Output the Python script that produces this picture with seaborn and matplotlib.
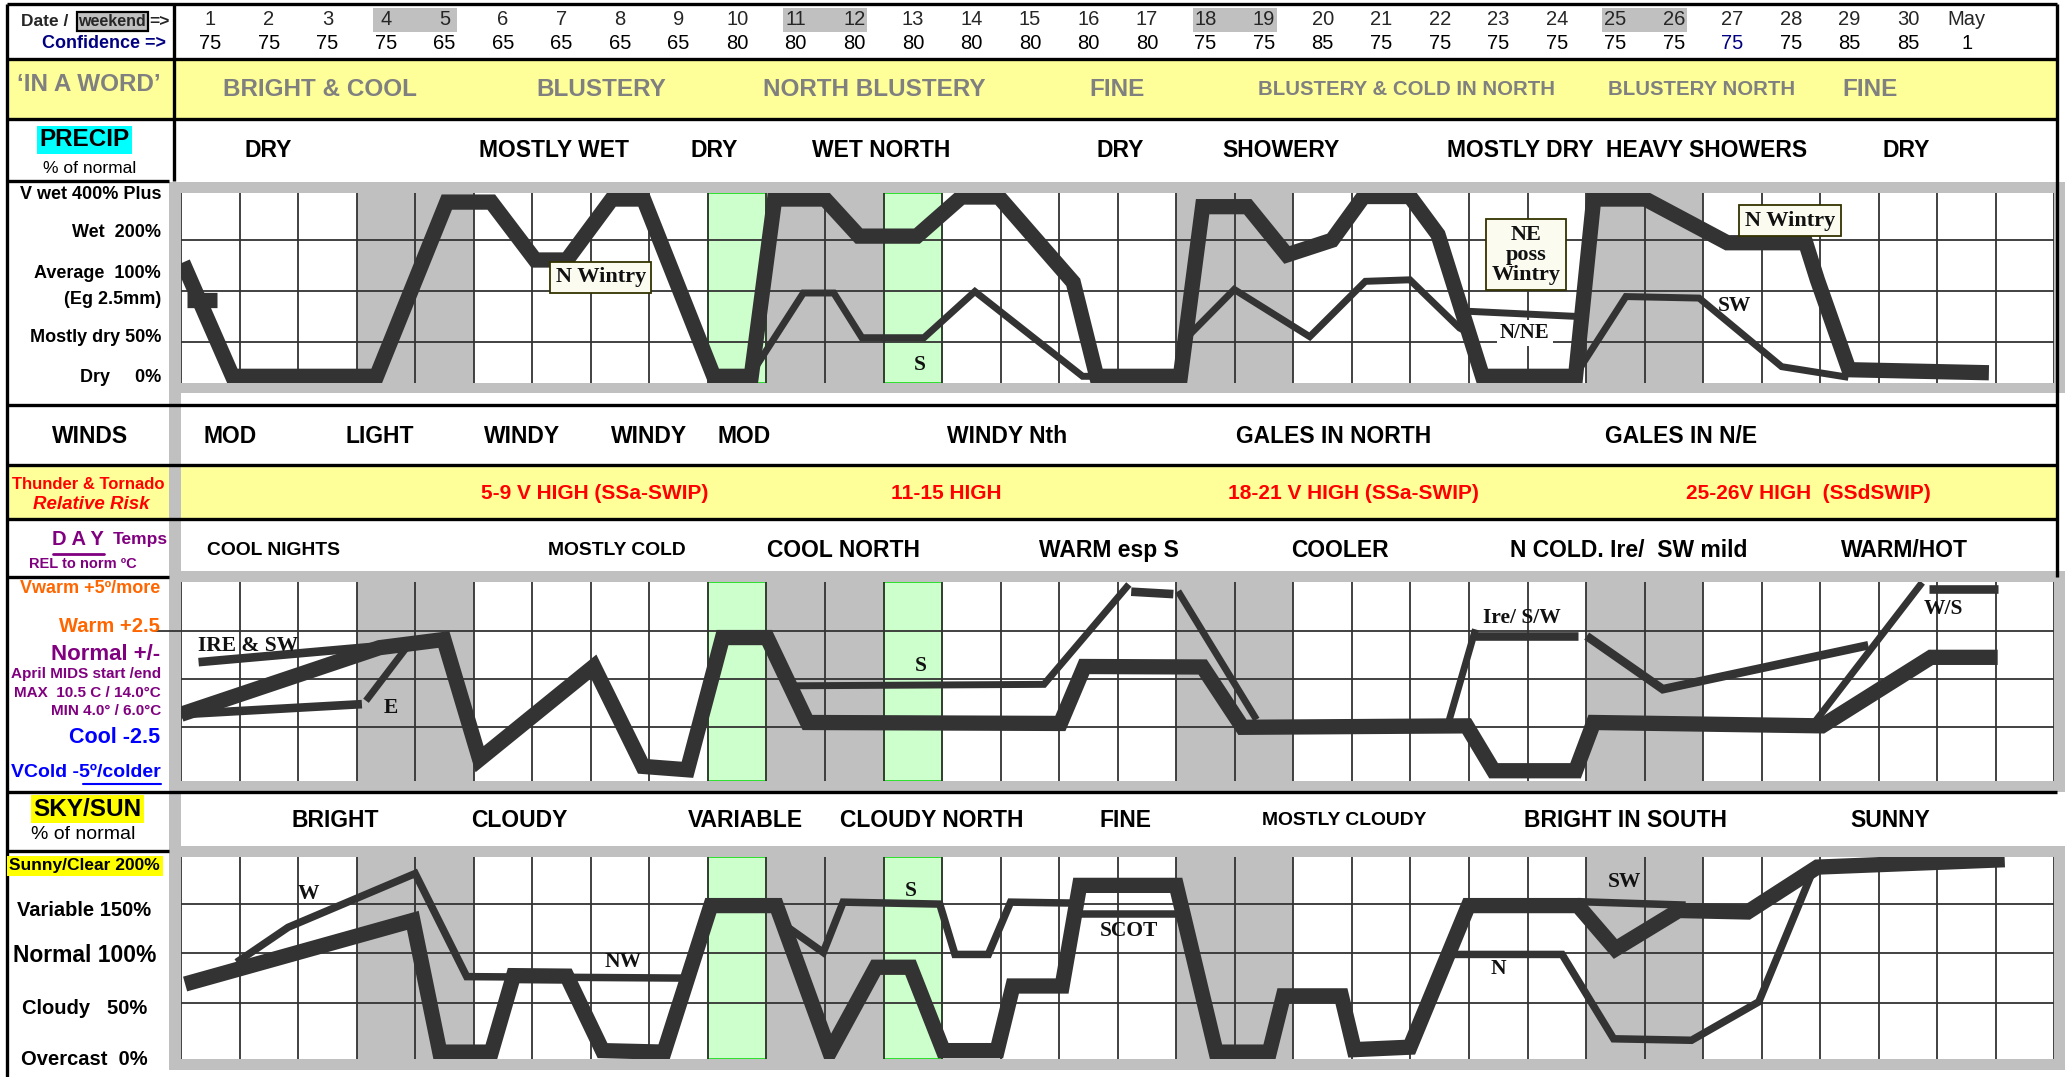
import matplotlib
matplotlib.use("Agg")
import matplotlib.pyplot as plt
import matplotlib.transforms as mtransforms
from matplotlib.patches import Rectangle
import seaborn as sns
import pandas as pd
import numpy as np

# ---------------- data ----------------
date_labels = [str(d) for d in range(1, 31)] + ["May"]
confidence = ["75", "75", "75", "75", "65", "65", "65", "65", "65", "80",
              "80", "80", "80", "80", "80", "80", "80", "75", "75", "85",
              "75", "75", "75", "75", "75", "75", "75", "75", "85", "85", "1"]
weekend_days = [4, 5, 11, 12, 18, 19, 25, 26]
holiday_days = [10, 13]

# text rows: label + the day it is centred on
word_text = ["BRIGHT & COOL", "BLUSTERY", "NORTH BLUSTERY", "FINE",
             "BLUSTERY & COLD IN NORTH", "BLUSTERY NORTH", "FINE"]
word_day = [2.87, 7.68, 12.35, 16.48, 21.43, 26.48, 29.35]

precip_text = ["DRY", "MOSTLY WET", "DRY", "WET NORTH", "DRY", "SHOWERY",
               "MOSTLY DRY", "HEAVY SHOWERS", "DRY"]
precip_day = [1.99, 6.87, 9.60, 12.46, 16.55, 19.28, 23.37, 26.55, 29.96]

wind_text = ["MOD", "LIGHT", "WINDY", "WINDY", "MOD", "WINDY Nth",
             "GALES IN NORTH", "GALES IN N/E"]
wind_day = [1.34, 3.89, 6.32, 8.49, 10.12, 14.61, 20.18, 26.12]

thunder_text = ["5-9 V HIGH (SSa-SWIP)", "11-15 HIGH", "18-21 V HIGH (SSa-SWIP)",
                "25-26V HIGH  (SSdSWIP)"]
thunder_day = [7.57, 13.57, 20.52, 28.29]

temp_text = ["COOL NIGHTS", "MOSTLY COLD", "COOL NORTH", "WARM esp S", "COOLER",
             "N COLD. Ire/  SW mild", "WARM/HOT"]
temp_day = [2.08, 7.95, 11.81, 16.35, 20.30, 25.22, 29.94]

sky_text = ["BRIGHT", "CLOUDY", "VARIABLE", "CLOUDY NORTH", "FINE",
            "MOSTLY CLOUDY", "BRIGHT IN SOUTH", "SUNNY"]
sky_day = [3.14, 6.28, 10.14, 13.32, 16.64, 20.36, 25.17, 29.69]

precip_levels = ["V wet 400% Plus", "Wet  200%", "Average  100%", "(Eg 2.5mm)",
                 "Mostly dry 50%", "Dry     0%"]
sky_levels = ["Sunny/Clear 200%", "Variable 150%", "Normal 100%", "Cloudy   50%",
              "Overcast  0%"]

# PRECIP lines (grid levels: 1 ~ mostly dry, 2 ~ average, 3 ~ wet)
precip_main_x = [0.53, 1.38, 3.84, 5.04, 5.80, 6.55, 7.09, 7.86, 8.40, 9.60,
                 10.24, 10.64, 11.50, 12.08, 13.07, 13.83, 14.47, 15.74, 16.14, 17.57,
                 17.95, 18.72, 19.39, 20.16, 20.70, 21.49, 21.97, 22.73, 24.32, 24.63,
                 25.51, 26.91, 28.25, 28.45, 28.99, 31.38]
precip_main_y = [2.56, 0.32, 0.32, 3.75, 3.75, 2.61, 2.61, 3.81, 3.81, 0.32,
                 0.32, 3.81, 3.81, 3.08, 3.08, 3.85, 3.85, 2.17, 0.32, 0.32,
                 3.66, 3.66, 2.71, 3.00, 3.86, 3.86, 3.11, 0.32, 0.32, 3.81,
                 3.81, 2.95, 2.95, 2.22, 0.45, 0.39]
precip_stub_x = [0.61, 1.11]
precip_stub_y = [1.83, 1.83]
precip_s_x = [10.32, 11.13, 11.65, 12.13, 13.19, 14.06, 15.90, 17.61]
precip_s_y = [0.51, 1.96, 1.96, 1.08, 1.08, 1.99, 0.32, 0.32]
precip_s2_x = [17.65, 18.49, 19.78, 20.73, 21.49, 22.34, 22.49]
precip_s2_y = [1.05, 2.03, 1.10, 2.19, 2.22, 1.27, 1.18]
precip_ne_x = [22.49, 24.32]
precip_ne_y = [1.60, 1.50]
precip_sw_x = [24.41, 25.18, 26.43, 27.84, 28.98]
precip_sw_y = [0.51, 1.89, 1.86, 0.51, 0.30]

# DAY temps lines (grid levels: 1 ~ cool, 2 ~ normal, 3 ~ warm)
temp_main_x = [0.50, 3.89, 4.99, 5.60, 7.55, 8.39, 9.15, 9.75, 10.51, 11.20,
               15.52, 15.93, 17.95, 18.63, 22.46, 22.92, 24.32, 24.63, 28.53, 30.39, 31.53]
temp_main_y = [1.27, 2.65, 2.82, 0.34, 2.26, 0.19, 0.12, 2.86, 2.86, 1.10,
               1.08, 2.26, 2.25, 1.00, 1.03, 0.10, 0.10, 1.10, 1.03, 2.45, 2.45]
temp_ire_x, temp_ire_y = [0.80, 3.89], [2.35, 2.68]
temp_low_x, temp_low_y = [0.50, 3.59], [1.27, 1.48]
temp_east_x, temp_east_y = [3.66, 4.35], [1.55, 2.65]
temp_south_x, temp_south_y = [10.95, 15.24, 16.69], [1.86, 1.89, 3.96]
temp_peak_x, temp_peak_y = [16.73, 17.45], [3.81, 3.76]
temp_fall_x, temp_fall_y = [17.53, 18.87], [3.82, 1.16]
temp_ire2_x, temp_ire2_y = [22.15, 22.61], [1.10, 3.03]
temp_ire2b_x, temp_ire2b_y = [22.61, 24.36], [2.89, 2.89]
temp_mid_x, temp_mid_y = [24.51, 25.81, 29.32], [2.89, 1.79, 2.70]
temp_ws_x, temp_ws_y = [28.40, 30.24], [1.10, 4.00]
temp_wsb_x, temp_wsb_y = [30.35, 31.53], [3.86, 3.86]

# SKY/SUN lines (grid levels: 1 ~ cloudy, 2 ~ normal, 3 ~ variable)
sky_main_x = [0.57, 4.46, 4.92, 5.80, 6.18, 7.09, 7.70, 8.75, 9.55, 10.67,
              11.58, 12.37, 12.96, 13.52, 14.44, 14.71, 15.55, 15.85, 17.50, 18.18,
              19.09, 19.33, 20.32, 20.54, 21.49, 22.49, 24.36, 25.00, 26.08, 27.26,
              28.45, 31.65]
sky_main_y = [1.38, 2.67, 0.00, 0.00, 1.55, 1.54, 0.03, 0.00, 2.97, 2.97,
              0.00, 1.72, 1.72, 0.03, 0.03, 1.34, 1.34, 3.38, 3.38, 0.00,
              0.00, 1.14, 1.14, 0.05, 0.10, 2.97, 2.97, 2.09, 2.87, 2.84,
              3.75, 3.90]
sky_w_x, sky_w_y = [1.45, 2.33, 4.50, 5.38, 9.15], [1.82, 2.53, 3.62, 1.53, 1.50]
sky_s_x = [10.78, 11.47, 11.81, 13.46, 13.72, 14.29, 14.67, 15.80]
sky_s_y = [2.60, 2.02, 3.04, 3.00, 1.98, 1.98, 3.04, 3.02]
sky_scot_x, sky_scot_y = [15.76, 17.62], [2.80, 2.80]
sky_n_x = [22.14, 24.09, 24.97, 26.30, 27.45, 28.40]
sky_n_y = [1.98, 1.98, 0.27, 0.24, 1.02, 3.75]
sky_sw_x, sky_sw_y = [24.36, 26.20], [3.05, 2.98]

# ---------------- style ----------------
sns.set_theme(style="white")
plt.rcParams["font.family"] = ["Liberation Sans", "DejaVu Sans"]
SERIF = ["Liberation Serif", "DejaVu Serif"]
INK = "#333333"
GREY = "#c0c0c0"
YELLOW = "#ffff99"
PURPLE = "#800080"
ORANGE = "#ff6600"
BLUE = "#0000ff"
RED = "#ff0000"
LW_THICK, LW_MED, LW_THIN = 11, 6.2, 5.0

W, H = 1566, 816          # layout units of the sheet
X0, X1 = 137, 1555        # left / right edge of the day grid

fig = plt.figure(figsize=(20.69, 10.77), dpi=100)
lay = fig.add_axes([0, 0, 1, 1], zorder=0)
lay.set_xlim(0, W)
lay.set_ylim(H, 0)
lay.axis("off")


def seg_frame(segs):
    rows = []
    for i, (xs, ys) in enumerate(segs):
        rows += [{"day": x, "level": y, "seg": i} for x, y in zip(xs, ys)]
    return pd.DataFrame(rows)


def draw_lines(ax, segs, lw):
    sns.lineplot(data=seg_frame(segs), x="day", y="level", units="seg", estimator=None,
                 sort=False, color=INK, linewidth=lw, legend=False, ax=ax,
                 solid_joinstyle="miter", solid_capstyle="butt", zorder=3)


def make_panel(top, bottom, ylim):
    ax = fig.add_axes([X0 / W, 1 - bottom / H, (X1 - X0) / W, (bottom - top) / H], zorder=2)
    ax.set_facecolor("white")
    for d in weekend_days:
        ax.axvspan(d - 0.5, d + 0.5, color=GREY, lw=0, zorder=0)
    for d in holiday_days:
        ax.axvspan(d - 0.5, d + 0.5, facecolor="#ccffcc", edgecolor="#22dd22", lw=1.3, zorder=0)
    ax.vlines(np.arange(0.5, 33.0, 1.0), ylim[0], ylim[1], color=INK, lw=1.3, zorder=1)
    ax.hlines([1, 2, 3], 0.5, 32.5, color=INK, lw=1.3, zorder=1)
    return ax


def finish(ax, ylim):
    ax.set_xlim(0.5, 32.5)
    ax.set_ylim(*ylim)
    ax.set_xlabel("")
    ax.set_ylabel("")
    ax.set_xticks([])
    ax.set_yticks([])
    for s in ax.spines.values():
        s.set_visible(False)


def note(ax, x, y, s, size=15.5, box=None):
    ax.text(x, y, s, family=SERIF, weight="bold", fontsize=size, ha="center", va="center",
            color="#111111", zorder=5, bbox=box, linespacing=1.0)


NOTE_BOX = dict(boxstyle="square,pad=0.25", fc="#fbfbf0", ec="#333300", lw=1.3)

# ---------------- sheet background ----------------
def rect(x0, y0, x1, y1, color, z=0.5):
    lay.add_patch(Rectangle((x0, y0), x1 - x0, y1 - y0, facecolor=color, edgecolor="none", zorder=z))


rect(5, 45, 1557, 90, YELLOW)
rect(5, 352, 1557, 393, YELLOW)
rect(128, 138, 1563, 298, GREY, 1)
rect(128, 433, 1563, 600, GREY, 1)
rect(128, 641, 1563, 811, GREY, 1)
rect(128, 138, 137, 811, GREY, 1)


def hline(y, x0, x1, lw=2.4):
    lay.plot([x0, x1], [y, y], color="black", lw=lw, solid_capstyle="butt", zorder=3)


def vline(x, y0, y1, lw=2.4):
    lay.plot([x, x], [y0, y1], color="black", lw=lw, solid_capstyle="butt", zorder=3)


for yy in (3, 45, 90, 307, 352, 393, 600):
    hline(yy, 5, 1557)
for yy in (137, 437, 645):
    hline(yy, 5, 128)
vline(5, 3, 816)
vline(132, 3, 137)
vline(1557, 3, 437)

# ---------------- chart panels ----------------
P_LIM = (0.18, 3.935)
T_LIM = (-0.12, 4.01)
S_LIM = (-0.13, 3.95)

ax_p = make_panel(146, 290.5, P_LIM)
draw_lines(ax_p, [(precip_main_x, precip_main_y), (precip_stub_x, precip_stub_y)], LW_THICK)
draw_lines(ax_p, [(precip_s_x, precip_s_y), (precip_s2_x, precip_s2_y),
                  (precip_ne_x, precip_ne_y), (precip_sw_x, precip_sw_y)], LW_THIN)
note(ax_p, 7.67, 2.27, "N Wintry", 16, NOTE_BOX)
note(ax_p, 13.11, 0.55, "S")
note(ax_p, 23.48, 2.71, "NE\nposs\nWintry", 16, NOTE_BOX)
note(ax_p, 23.45, 1.17, "N/NE", 15, dict(boxstyle="square,pad=0.15", fc="white", ec="none"))
note(ax_p, 27.03, 1.70, "SW")
note(ax_p, 27.98, 3.38, "N Wintry", 16, NOTE_BOX)
finish(ax_p, P_LIM)

ax_t = make_panel(441, 592, T_LIM)
draw_lines(ax_t, [(temp_main_x, temp_main_y)], LW_THICK)
draw_lines(ax_t, [(temp_ire_x, temp_ire_y), (temp_low_x, temp_low_y),
                  (temp_ire2b_x, temp_ire2b_y), (temp_wsb_x, temp_wsb_y),
                  (temp_peak_x, temp_peak_y), (temp_mid_x, temp_mid_y)], LW_MED)
draw_lines(ax_t, [(temp_east_x, temp_east_y), (temp_south_x, temp_south_y),
                  (temp_fall_x, temp_fall_y), (temp_ire2_x, temp_ire2_y),
                  (temp_ws_x, temp_ws_y)], LW_THIN)
note(ax_t, 1.64, 2.68, "IRE & SW")
note(ax_t, 4.08, 1.41, "E")
note(ax_t, 13.14, 2.27, "S")
note(ax_t, 23.41, 3.27, "Ire/ S/W")
note(ax_t, 30.61, 3.45, "W/S")
finish(ax_t, T_LIM)

ax_s = make_panel(649.5, 802, S_LIM)
draw_lines(ax_s, [(sky_main_x, sky_main_y)], LW_THICK)
draw_lines(ax_s, [(sky_w_x, sky_w_y), (sky_s_x, sky_s_y), (sky_scot_x, sky_scot_y),
                  (sky_n_x, sky_n_y), (sky_sw_x, sky_sw_y)], LW_THIN + 0.4)
note(ax_s, 2.67, 3.20, "W")
note(ax_s, 8.05, 1.82, "NW")
note(ax_s, 12.96, 3.27, "S")
note(ax_s, 16.69, 2.46, "SCOT")
note(ax_s, 25.16, 3.44, "SW")
note(ax_s, 23.00, 1.68, "N")
finish(ax_s, S_LIM)

# ---------------- header and text rows ----------------
row_tf = mtransforms.blended_transform_factory(ax_p.transData, lay.transData)

for d in weekend_days[::2]:
    lay.add_patch(Rectangle((d - 0.22, 6), 1.44, 18, transform=row_tf,
                            facecolor=GREY, edgecolor="none", zorder=1))
for i, (lab_, conf) in enumerate(zip(date_labels, confidence)):
    lay.text(i + 1, 15, lab_, transform=row_tf, ha="center", va="center", fontsize=14.5, zorder=4)
    lay.text(i + 1, 33, conf, transform=row_tf, ha="center", va="center", fontsize=14.5, zorder=4,
             color="#000080" if i == 26 else "black")

lay.text(52, 16, "Date /", ha="right", va="center", fontsize=12.5, weight="bold", zorder=4)
lay.text(85, 16, "weekend", ha="center", va="center", fontsize=11.5, weight="bold", zorder=4,
         bbox=dict(boxstyle="square,pad=0.12", fc=GREY, ec="black", lw=1.6))
lay.text(113, 16, "=>", ha="left", va="center", fontsize=12.5, weight="bold", zorder=4)
lay.text(126, 33, "Confidence =>", ha="right", va="center", fontsize=13, weight="bold",
         color="#000080", zorder=4)


def row_text(y, labels, days, size, color="black", style="normal", smaller=()):
    for s, d in zip(labels, days):
        fs = size * 0.84 if s in smaller else size
        lay.text(d, y, s, transform=row_tf, ha="center", va="center", fontsize=fs,
                 color=color, weight="bold", style=style, zorder=4)


row_text(68, word_text, word_day, 17.5, color="#808080",
         smaller=("BLUSTERY & COLD IN NORTH", "BLUSTERY NORTH"))
row_text(114, precip_text, precip_day, 16.5)
row_text(331, wind_text, wind_day, 16.5)
row_text(374, thunder_text, thunder_day, 15, color=RED)
row_text(417, temp_text, temp_day, 16.5, smaller=("COOL NIGHTS", "MOSTLY COLD"))
row_text(622, sky_text, sky_day, 16.5, smaller=("MOSTLY CLOUDY",))

# ---------------- left label column ----------------
def lab(x, y, s, size, color="black", weight="bold", ha="center", **kw):
    lay.text(x, y, s, ha=ha, va="center", fontsize=size, color=color, weight=weight, zorder=4, **kw)


lab(67, 64, "\u2018IN A WORD\u2019", 17.5, color="#808080")
lab(64, 106, "PRECIP", 17.5, bbox=dict(boxstyle="square,pad=0.1", fc="#00ffff", ec="none"))
lab(68, 128, "% of normal", 12.5, weight="normal")
for s, yy in zip(precip_levels, [147, 176, 207, 227, 256, 286]):
    lab(122, yy, s, 13, ha="right")

lab(68, 331, "WINDS", 16.5)
lab(67, 367, "Thunder & Tornado", 12, color=RED)
lab(69, 382, "Relative Risk", 13.5, color=RED, style="italic")

lab(59, 409, "D A Y", 14.5, color=PURPLE)
lay.plot([40, 79], [420, 420], color=PURPLE, lw=2, zorder=4)
lab(106, 409, "Temps", 12.5, color=PURPLE)
lab(63, 427, "REL to norm \u00baC", 10.5, color=PURPLE)

lab(121, 446, "Vwarm +5\u00ba/more", 13, color=ORANGE, ha="right")
lab(121, 475, "Warm +2.5", 14.5, color=ORANGE, ha="right")
lay.plot([117, 137], [478, 478], color=INK, lw=1.3, zorder=3)
lab(121, 496, "Normal +/-", 16, color=PURPLE, ha="right")
lab(122, 511, "April MIDS start /end", 11, color=PURPLE, ha="right")
lab(122, 525, "MAX  10.5 C / 14.0\u00b0C", 11, color=PURPLE, ha="right")
lab(122, 539, "MIN 4.0\u00b0 / 6.0\u00b0C", 11, color=PURPLE, ha="right")
lab(121, 559, "Cool -2.5", 15.5, color=BLUE, ha="right")
lab(122, 585, "VCold -5\u00ba/colder", 14, color=BLUE, ha="right")
lay.plot([63, 122], [594, 594], color=BLUE, lw=1.5, zorder=4)

lab(66, 613, "SKY/SUN", 17.5, bbox=dict(boxstyle="square,pad=0.1", fc="#ffff00", ec="none"))
lab(63, 632, "% of normal", 14, weight="normal")
for s, yy, fs in zip(sky_levels, [656, 690, 724, 764, 803], [12.5, 14.5, 16.5, 14.5, 14.5]):
    kw = {}
    if s.startswith("Sunny"):
        kw["bbox"] = dict(boxstyle="square,pad=0.15", fc="#ffff00", ec="none")
    lab(64, yy, s, fs, **kw)

fig.savefig("out.png", dpi=100)
